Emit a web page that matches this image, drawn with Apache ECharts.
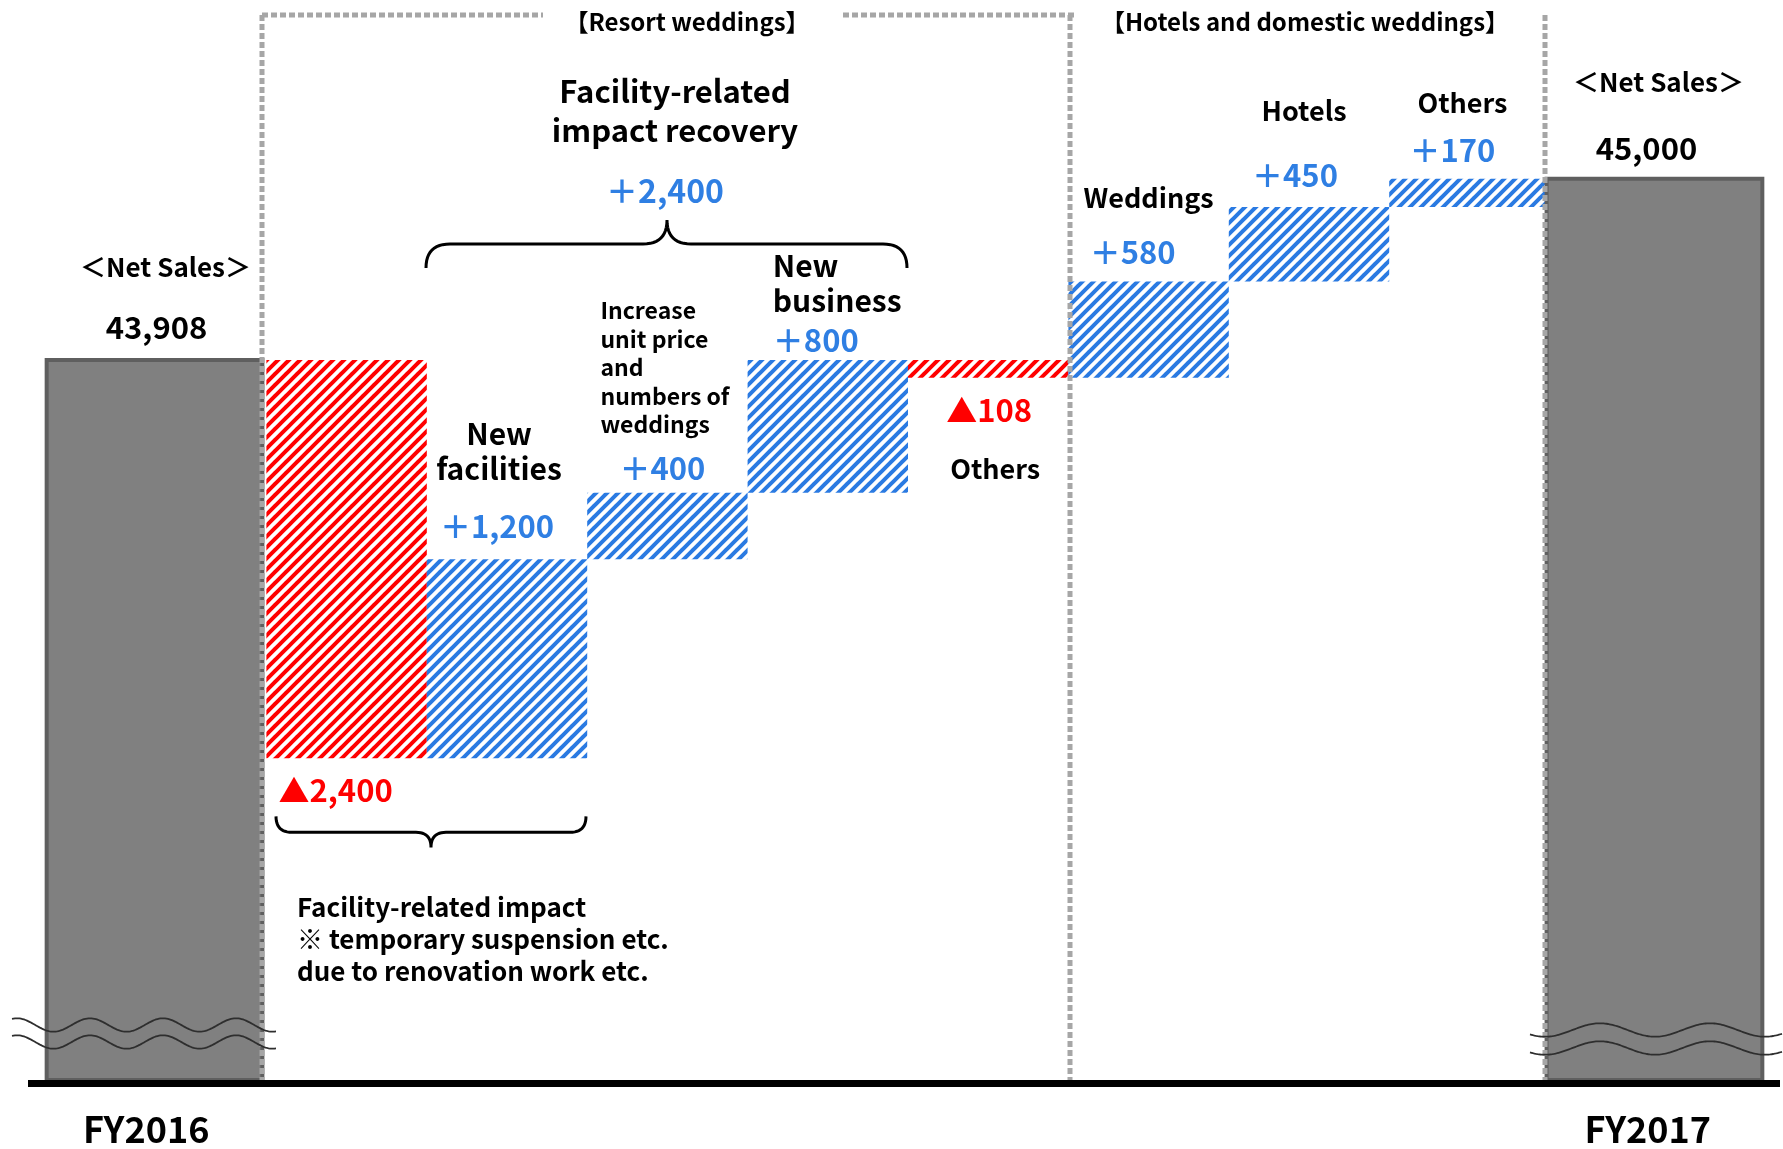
<!DOCTYPE html>
<html>
<head>
<meta charset="utf-8">
<title>Net sales bridge FY2016 to FY2017</title>
<script src="https://cdn.jsdelivr.net/npm/echarts@6.0.0/dist/echarts.min.js"></script>
<style>
  html, body { margin: 0; padding: 0; background: #ffffff; }
  #chart { width: 1783px; height: 1149px; }
</style>
</head>
<body>
<div id="chart"></div>
<script>
// ---------------- data ----------------
const periodLabels = ['FY2016', 'FY2017'];
const netSales = [43908, 45000];

const changeNames = [
  'Facility-related impact',
  'New facilities',
  'Increase unit price and numbers of weddings',
  'New business',
  'Others (resort weddings)',
  'Weddings',
  'Hotels',
  'Others (hotels and domestic)'
];
const changeCaptions = [
  '',
  'New\nfacilities',
  'Increase\nunit price\nand\nnumbers of\nweddings',
  'New\nbusiness',
  'Others',
  'Weddings',
  'Hotels',
  'Others'
];
const changeValues = [-2400, 1200, 400, 800, -108, 580, 450, 170];

const totalCaption = '＜Net Sales＞';
const segmentTitles = ['【Resort weddings】', '【Hotels and domestic weddings】'];
const recoveryTitle = 'Facility-related\nimpact recovery';
const recoveryItems = [1, 2, 3];          // indexes into changeValues
const impactNote = 'Facility-related impact\n※ temporary suspension etc.\ndue to renovation work etc.';

// ---------------- scale & style ----------------
const Y_MIN = 39570;   // broken value axis (see wavy marks)
const Y_MAX = 45950;
const FONT = '"Noto Sans CJK JP", "Noto Sans", sans-serif';
const BLUE = '#2a7ae2';
const BLUE_TEXT = '#2f7fe3';
const RED = '#ff0000';
const DOT_GREY = '#a6a6a6';

const categories = [periodLabels[0], ...changeNames, periodLabels[1]];

// waterfall levels
const bars = [];
bars.push({ kind: 'total', low: Y_MIN, high: netSales[0], value: netSales[0] });
let level = netSales[0];
changeValues.forEach(v => {
  const next = level + v;
  bars.push({ kind: v < 0 ? 'down' : 'up', low: Math.min(level, next), high: Math.max(level, next), value: v });
  level = next;
});
bars.push({ kind: 'total', low: Y_MIN, high: netSales[1], value: netSales[1] });

const captions = [totalCaption, ...changeCaptions, totalCaption];

function fmtNumber(n) { return Math.abs(n).toLocaleString('en-US'); }
function fmtChange(v) { return (v < 0 ? '▲' : '＋') + fmtNumber(v); }

// label placement relative to each bar (dx from bar centre, dy from its top, or bottom for decreases)
const labelLayout = [
  { v: [2, -33],     c: [11, -93],    cs: 26, lh: 32, align: 'center' },
  { v: [-11, 32],    c: null },
  { v: [-10, -33],   c: [-8, -108],   cs: 30, lh: 35, align: 'center' },
  { v: [-5, -25],    c: [-67, -125],  cs: 23, lh: 28.5, align: 'left' },
  { v: [-12, -20],   c: [-55, -77],   cs: 30, lh: 35, align: 'left' },
  { v: [1, 32],      c: [7, 91],      cs: 27, lh: 32, align: 'center' },
  { v: [-16, -29],   c: [0, -84],     cs: 27, lh: 32, align: 'center' },
  { v: [-14, -32],   c: [-5, -96],    cs: 27, lh: 32, align: 'center' },
  { v: [-17, -28],   c: [-7, -76],    cs: 27, lh: 32, align: 'center' },
  { v: [-8, -30],    c: [4, -97],     cs: 26, lh: 32, align: 'center' }
];

function hatch(color) {
  const p = 11;
  const cv = document.createElement('canvas');
  cv.width = p; cv.height = p;
  const g = cv.getContext('2d');
  g.strokeStyle = color;
  g.lineWidth = 4;
  g.lineCap = 'square';
  for (const k of [-1, 0, 1]) {
    g.beginPath();
    g.moveTo(k * p, p);
    g.lineTo(k * p + p, 0);
    g.stroke();
  }
  return { image: cv, repeat: 'repeat' };
}
const bluePattern = hatch(BLUE);
const redPattern = hatch(RED);

function textEl(text, x, y, size, color, align, lineHeight) {
  return {
    type: 'text',
    z2: 10,
    style: {
      text: text, x: x, y: y,
      fill: color,
      fontSize: size, fontWeight: 'bold', fontFamily: FONT,
      align: align || 'center', verticalAlign: 'middle',
      lineHeight: lineHeight || Math.round(size * 1.2)
    }
  };
}

function renderItem(params, api) {
  const i = api.value(0);
  const b = bars[i];
  const band = api.size([1, 0])[0];
  const pHigh = api.coord([i, b.high]);
  const pLow = api.coord([i, b.low]);
  const cx = pHigh[0], top = pHigh[1], bottom = pLow[1];
  let x0, w;
  const children = [];
  if (b.kind === 'total') {
    w = band * 1.345;
    x0 = i === 0 ? cx + band / 2 - 4 - w : cx - band / 2 - 3;
    children.push({
      type: 'rect',
      shape: { x: x0, y: top, width: w, height: bottom - top },
      style: { fill: '#808080', stroke: '#5f5f5f', lineWidth: 4 }
    });
  } else {
    x0 = cx - band / 2; w = band;
    children.push({
      type: 'rect',
      shape: { x: x0, y: top, width: w, height: bottom - top },
      style: { fill: b.kind === 'up' ? bluePattern : redPattern }
    });
  }
  const mid = x0 + w / 2;
  const anchorY = b.kind === 'down' ? bottom : top;
  const lay = labelLayout[i];
  let valueText, valueColor;
  if (b.kind === 'total') { valueText = b.value.toLocaleString('en-US'); valueColor = '#000000'; }
  else { valueText = fmtChange(b.value); valueColor = b.kind === 'up' ? BLUE_TEXT : RED; }
  children.push(textEl(valueText, mid + lay.v[0], anchorY + lay.v[1], 31, valueColor, 'center'));
  if (lay.c && captions[i]) {
    children.push(textEl(captions[i], mid + lay.c[0], anchorY + lay.c[1], lay.cs, '#000000', lay.align, lay.lh));
  }
  return { type: 'group', children: children };
}

const chart = echarts.init(document.getElementById('chart'), null, { renderer: 'canvas' });

chart.setOption({
  animation: false,
  backgroundColor: '#ffffff',
  grid: { left: 106, right: 73, top: 21, bottom: 69 },
  xAxis: {
    type: 'category',
    data: categories,
    axisLine: { show: false },
    axisTick: { show: false },
    splitLine: { show: false },
    axisLabel: {
      interval: 0,
      margin: 31,
      color: '#000000',
      fontSize: 36,
      fontWeight: 'bold',
      fontFamily: FONT,
      formatter: function (v, idx) {
        if (idx === 0) return '{l|' + v + '}';
        if (idx === categories.length - 1) return '{r|' + v + '}';
        return '';
      },
      rich: {
        l: { padding: [0, 80, 0, 0], fontSize: 36, fontWeight: 'bold', fontFamily: FONT, color: '#000000' },
        r: { padding: [0, 0, 0, 36], fontSize: 36, fontWeight: 'bold', fontFamily: FONT, color: '#000000' }
      }
    }
  },
  yAxis: {
    type: 'value',
    min: Y_MIN,
    max: Y_MAX,
    show: false
  },
  series: [{
    type: 'custom',
    renderItem: renderItem,
    encode: { x: 0, y: [1, 2] },
    data: bars.map((b, i) => [i, b.low, b.high, b.value]),
    z: 2
  }]
});

// ---------------- decorations ----------------
const toPx = (i, v) => chart.convertToPixel({ gridIndex: 0 }, [i, v]);
const baseY = toPx(0, Y_MIN)[1];
const redBottom = toPx(1, bars[1].low)[1];

function dotted(x1, y1, x2, y2) {
  return {
    type: 'line', z: 50,
    shape: { x1: x1, y1: y1, x2: x2, y2: y2 },
    style: { stroke: DOT_GREY, lineWidth: 5, lineDash: [6, 3] }
  };
}
function wave(xStart, xEnd, yc, amp, period, peakX) {
  const pts = [];
  for (let x = xStart; x <= xEnd; x += 1.5) {
    pts.push([x, yc - amp * Math.cos(2 * Math.PI * (x - peakX) / period)]);
  }
  return { type: 'polyline', z: 60, shape: { points: pts }, style: { stroke: '#2e2e2e', lineWidth: 1.8, fill: null } };
}
function gText(text, x, y, size, color, align, lineHeight) {
  return {
    type: 'text', z: 70, x: x, y: y,
    style: {
      text: text, fill: color,
      fontSize: size, fontWeight: 'bold', fontFamily: FONT,
      align: align || 'center', verticalAlign: 'middle',
      lineHeight: lineHeight || Math.round(size * 1.2)
    }
  };
}

// curly brace as a sampled polyline: ends at yEnd, bar at yBar, tip at (xTip, yTip)
function brace(xL, xR, xTip, yEnd, yBar, yTip) {
  const r = Math.abs(yBar - yEnd);
  const t = Math.abs(yTip - yBar);
  const pts = [];
  function quad(p0, c, p1) {
    for (let k = 0; k <= 12; k++) {
      const s = k / 12;
      pts.push([
        (1 - s) * (1 - s) * p0[0] + 2 * (1 - s) * s * c[0] + s * s * p1[0],
        (1 - s) * (1 - s) * p0[1] + 2 * (1 - s) * s * c[1] + s * s * p1[1]
      ]);
    }
  }
  quad([xL, yEnd], [xL, yBar], [xL + r, yBar]);
  quad([xTip - t, yBar], [xTip, yBar], [xTip, yTip]);
  quad([xTip, yTip], [xTip, yBar], [xTip + t, yBar]);
  quad([xR - r, yBar], [xR, yBar], [xR, yEnd]);
  return { type: 'polyline', z: 70, shape: { points: pts }, style: { stroke: '#000000', lineWidth: 3, fill: null } };
}

const recoverySum = recoveryItems.reduce((s, k) => s + changeValues[k], 0);
const rb = redBottom;

chart.setOption({
  graphic: [
    // baseline
    { type: 'line', z: 40, shape: { x1: 28, y1: baseY + 3.5, x2: 1780, y2: baseY + 3.5 }, style: { stroke: '#000000', lineWidth: 7 } },
    // segment frames
    dotted(262, 15, 262, baseY),
    dotted(262, 15, 543, 15),
    dotted(843, 15, 1074, 15),
    dotted(1070, 15, 1070, baseY),
    dotted(1545, 15, 1545, baseY),
    gText(segmentTitles[0], 687, 22, 24, '#000000'),
    gText(segmentTitles[1], 1305, 22, 24, '#000000'),
    // recovery bracket
    gText(recoveryTitle, 675, 111, 31, '#000000', 'center', 39),
    gText(fmtChange(recoverySum), 665, 191, 32, BLUE_TEXT),
    brace(426, 907, 667, 268, 244, 220),
    // facility-related impact bracket
    brace(276, 586, 431, rb + 58, rb + 74, rb + 89),
    gText(impactNote, 297, rb + 181, 26, '#000000', 'left', 32),
    // axis break marks
    wave(12, 277, 1025, 6.7, 73, 17),
    wave(12, 277, 1042, 6.7, 73, 17),
    wave(1530, 1783, 1030, 6.7, 110, 1600),
    wave(1530, 1783, 1048, 6.7, 110, 1600)
  ]
});
</script>
</body>
</html>
